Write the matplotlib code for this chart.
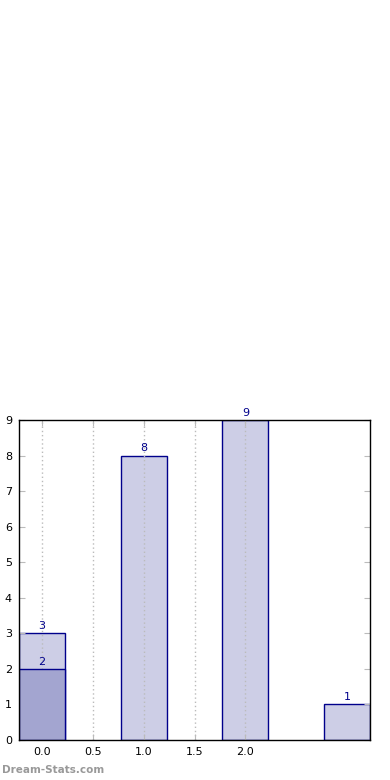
import matplotlib
matplotlib.use('Agg')
import matplotlib.pyplot as plt

# Données du graphique
positions = [0, 1, 2, 3]
values = [3, 8, 9, 1]
sub_positions = [0]
sub_values = [2]
xtick_values = [0.0, 0.5, 1.0, 1.5, 2.0]

light = '#cdcee6'
dark = '#a3a5d0'
edge = '#00008b'

fig = plt.figure(figsize=(3.9, 7.8), dpi=100)
ax = fig.add_axes([19 / 390, 40 / 780, 351 / 390, 320 / 780])

bar_width = 0.45
ax.bar(positions, values, bar_width, color=light, edgecolor=edge, linewidth=1, zorder=2)
ax.bar(sub_positions, sub_values, bar_width, color=dark, edgecolor=edge, linewidth=1, zorder=3)

# Etiquettes des valeurs
for x, v in zip(positions, values):
    ax.text(x, v + 0.06, str(v), ha='center', va='bottom', color=edge, fontsize=8, zorder=5)
for x, v in zip(sub_positions, sub_values):
    ax.text(x, v + 0.06, str(v), ha='center', va='bottom', color=edge, fontsize=8, zorder=5)

ax.set_xlim(-0.225, 3.225)
ax.set_ylim(0, 9)
ax.set_xticks(xtick_values)
ax.set_xticklabels([f'{t:.1f}' for t in xtick_values])
ax.set_yticks(range(10))
ax.tick_params(direction='in', length=4, color='#bbbbbb', labelsize=8,
               top=True, right=True, pad=5)
ax.set_axisbelow(False)
ax.grid(axis='x', linestyle=(0, (1, 2)), color='#bbbbbb', linewidth=1, zorder=4)
for s in ax.spines.values():
    s.set_linewidth(1)
    s.set_zorder(6)

fig.text(0.005, 0.006, 'Dream-Stats.com', color='#999999', fontsize=7.5,
         fontweight='bold', ha='left', va='bottom')

fig.savefig('out.png', dpi=100)
